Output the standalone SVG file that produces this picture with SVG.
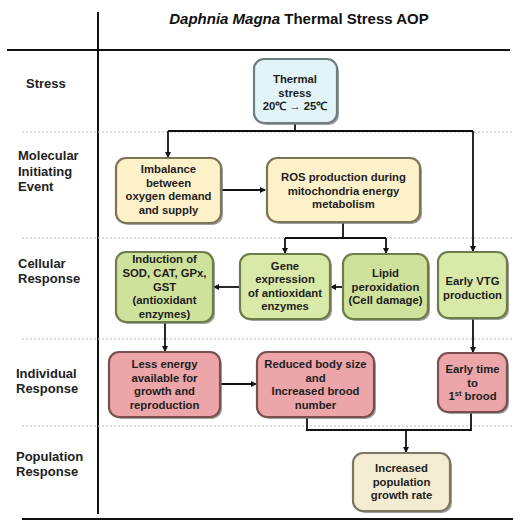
<svg xmlns="http://www.w3.org/2000/svg" width="528" height="529" viewBox="0 0 528 529">
<defs>
<style>
.lbl{font-family:"Liberation Sans",Arial,sans-serif;font-weight:bold;font-size:13px;fill:#222}
.t{font-family:"Liberation Sans",Arial,sans-serif;font-weight:bold;font-size:11.3px;fill:#1e1e1e;text-anchor:middle}
.box{stroke-width:2.2}
.sh{fill:#777;opacity:0.7}
.blue{fill:#e2f4f7;stroke:#6f7d82}
.yel{fill:#fdf1c9;stroke:#7d7558}
.grn{fill:#d8e9a8;stroke:#6d7c4a}
.grn2{fill:#cfe29c;stroke:#6d7c4a}
.pnk{fill:#eca5a8;stroke:#7a4f50}
.crm{fill:#f3ecd2;stroke:#7a7660}
.c{fill:none;stroke:#111;stroke-width:1.8}
.sep{stroke:#bbb;stroke-width:1;stroke-dasharray:2,2}
.axis{stroke:#111;stroke-width:2}
</style>
<marker id="ah" markerWidth="6" markerHeight="6" refX="5" refY="3" orient="auto" markerUnits="userSpaceOnUse">
<path d="M0,0 L6,3 L0,6 z" fill="#111"/>
</marker>
</defs>
<rect width="528" height="529" fill="#fff"/>
<text x="299" y="24" style="font-family:'Liberation Sans',Arial,sans-serif;font-weight:bold;font-size:15px;fill:#111" text-anchor="middle"><tspan font-style="italic">Daphnia Magna</tspan> Thermal Stress AOP</text>
<g id="grid">
<line class="axis" x1="98" y1="12" x2="98" y2="514"/>
<line class="axis" x1="7" y1="50" x2="510" y2="50"/>
<line class="axis" x1="22" y1="519" x2="513" y2="519"/>
<line class="sep" x1="22" y1="132" x2="513" y2="132"/>
<line class="sep" x1="22" y1="238" x2="513" y2="238"/>
<line class="sep" x1="22" y1="339" x2="513" y2="339"/>
<line class="sep" x1="22" y1="426" x2="513" y2="426"/>
</g>
<g id="labels">
<text class="lbl" x="26" y="88">Stress</text>
<text class="lbl" x="18" y="160">Molecular<tspan x="18" y="176">Initiating</tspan><tspan x="18" y="191">Event</tspan></text>
<text class="lbl" x="18" y="268">Cellular<tspan x="18" y="283">Response</tspan></text>
<text class="lbl" x="16" y="378">Individual<tspan x="16" y="393">Response</tspan></text>
<text class="lbl" x="16" y="461">Population<tspan x="16" y="476">Response</tspan></text>
</g>
<g id="connectors">
<polyline class="c" points="295,123 295,131"/>
<line class="c" x1="168" y1="131" x2="473" y2="131"/>
<line class="c" x1="168" y1="131" x2="168" y2="157" marker-end="url(#ah)"/>
<line class="c" x1="473" y1="131" x2="473" y2="251" marker-end="url(#ah)"/>
<line class="c" x1="221" y1="190" x2="265" y2="190" marker-end="url(#ah)"/>
<polyline class="c" points="343,222 343,238"/>
<line class="c" x1="285" y1="238" x2="386" y2="238"/>
<line class="c" x1="285" y1="238" x2="285" y2="253" marker-end="url(#ah)"/>
<line class="c" x1="386" y1="238" x2="386" y2="253" marker-end="url(#ah)"/>
<line class="c" x1="343" y1="287" x2="331" y2="287" marker-end="url(#ah)"/>
<line class="c" x1="240" y1="287" x2="214" y2="287" marker-end="url(#ah)"/>
<line class="c" x1="165" y1="322" x2="165" y2="351" marker-end="url(#ah)"/>
<line class="c" x1="473" y1="318" x2="473" y2="352" marker-end="url(#ah)"/>
<line class="c" x1="220" y1="384" x2="256" y2="384" marker-end="url(#ah)"/>
<polyline class="c" points="307,417 307,430 471,430 471,412"/>
<line class="c" x1="406" y1="430" x2="406" y2="452" marker-end="url(#ah)"/>
</g>
<g id="n-thermal">
<rect class="sh" x="256" y="61" width="83" height="64" rx="10"/>
<rect class="box blue" x="254" y="59" width="83" height="64" rx="10"/>
<text class="t" x="295" y="83">Thermal<tspan x="295" y="96.5">stress</tspan><tspan x="295" y="110">20℃ → 25℃</tspan></text>
</g>
<g id="n-imbalance">
<rect class="sh" x="118" y="160" width="105" height="65" rx="10"/>
<rect class="box yel" x="116" y="158" width="105" height="65" rx="10"/>
<text class="t" x="168.5" y="173">Imbalance<tspan x="168.5" y="186.5">between</tspan><tspan x="168.5" y="200">oxygen demand</tspan><tspan x="168.5" y="213.5">and supply</tspan></text>
</g>
<g id="n-ros">
<rect class="sh" x="269" y="160" width="153" height="64" rx="10"/>
<rect class="box yel" x="267" y="158" width="153" height="64" rx="10"/>
<text class="t" x="343.5" y="181">ROS production during<tspan x="343.5" y="194.5">mitochondria energy</tspan><tspan x="343.5" y="208">metabolism</tspan></text>
</g>
<g id="n-induction">
<rect class="sh" x="118" y="254" width="97" height="70" rx="10"/>
<rect class="box grn2" x="116" y="252" width="97" height="70" rx="10"/>
<text class="t" x="164.5" y="263">Induction of<tspan x="164.5" y="277">SOD, CAT, GPx,</tspan><tspan x="164.5" y="290.5">GST</tspan><tspan x="164.5" y="304">(antioxidant</tspan><tspan x="164.5" y="318">enzymes)</tspan></text>
</g>
<g id="n-gene">
<rect class="sh" x="242" y="256" width="90" height="65" rx="10"/>
<rect class="box grn" x="240" y="254" width="90" height="65" rx="10"/>
<text class="t" x="285" y="269.5">Gene<tspan x="285" y="283">expression</tspan><tspan x="285" y="296.5">of antioxidant</tspan><tspan x="285" y="310">enzymes</tspan></text>
</g>
<g id="n-lipid">
<rect class="sh" x="345" y="256" width="85" height="65" rx="10"/>
<rect class="box grn2" x="343" y="254" width="85" height="65" rx="10"/>
<text class="t" x="385.5" y="277">Lipid<tspan x="385.5" y="290.5">peroxidation</tspan><tspan x="385.5" y="304">(Cell damage)</tspan></text>
</g>
<g id="n-vtg">
<rect class="sh" x="440" y="254" width="69" height="66" rx="10"/>
<rect class="box grn" x="438" y="252" width="69" height="66" rx="10"/>
<text class="t" x="472.5" y="285">Early VTG<tspan x="472.5" y="298.5">production</tspan></text>
</g>
<g id="n-less">
<rect class="sh" x="111" y="354" width="111" height="65" rx="10"/>
<rect class="box pnk" x="109" y="352" width="111" height="65" rx="10"/>
<text class="t" x="164.5" y="368">Less energy<tspan x="164.5" y="381.5">available for</tspan><tspan x="164.5" y="395">growth and</tspan><tspan x="164.5" y="408.5">reproduction</tspan></text>
</g>
<g id="n-reduced">
<rect class="sh" x="259" y="354" width="117" height="65" rx="10"/>
<rect class="box pnk" x="257" y="352" width="117" height="65" rx="10"/>
<text class="t" x="315.5" y="368">Reduced body size<tspan x="315.5" y="381.5">and</tspan><tspan x="315.5" y="395">Increased brood</tspan><tspan x="315.5" y="408.5">number</tspan></text>
</g>
<g id="n-early">
<rect class="sh" x="440" y="355" width="69" height="59" rx="10"/>
<rect class="box pnk" x="438" y="353" width="69" height="59" rx="10"/>
<text class="t" x="472.5" y="373">Early time<tspan x="472.5" y="386.5">to</tspan><tspan x="472.5" y="400">1<tspan font-size="7.5" dy="-4">st</tspan><tspan dy="4"> brood</tspan></tspan></text>
</g>
<g id="n-population">
<rect class="sh" x="355" y="455" width="97" height="58" rx="10"/>
<rect class="box crm" x="353" y="453" width="97" height="58" rx="10"/>
<text class="t" x="401.5" y="472">Increased<tspan x="401.5" y="485.5">population</tspan><tspan x="401.5" y="499">growth rate</tspan></text>
</g>
</svg>
